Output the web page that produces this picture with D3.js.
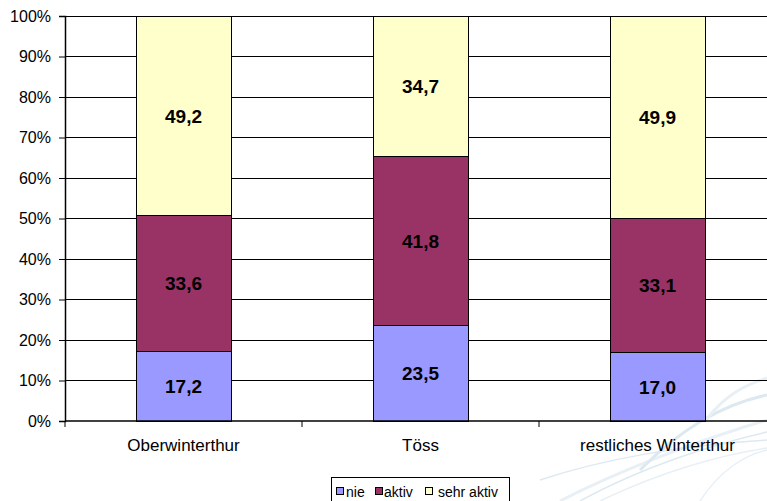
<!DOCTYPE html>
<html><head><meta charset="utf-8">
<script src="https://cdn.jsdelivr.net/npm/d3@7"></script>
<style>html,body{margin:0;padding:0;background:#fff;}svg{display:block;font-family:Arial,"Liberation Sans",sans-serif;}</style>
</head><body>
<svg id="c" width="767" height="501"></svg>
<script>
const categories = ["Oberwinterthur", "Töss", "restliches Winterthur"];
const seriesNames = ["nie", "aktiv", "sehr aktiv"];
const nie = [17.2, 23.5, 17.0];
const aktiv = [33.6, 41.8, 33.1];
const sehrAktiv = [49.2, 34.7, 49.9];
const yTicks = [0, 10, 20, 30, 40, 50, 60, 70, 80, 90, 100];
const colors = ["#9999FF", "#993366", "#FFFFCC"];

(function () {
const svg = d3.select("#c");
const pLeft = 65, pRight = 776, pTop = 16, pBottom = 421;

// decorative background swooshes
const deco = svg.append("g").attr("fill", "none");
const swooshes = [
  "M560,501 C620,470 700,440 767,420",
  "M580,501 C640,468 710,445 767,432",
  "M600,501 C660,472 720,455 767,448",
  "M640,470 C680,430 720,405 767,395",
  "M700,501 C720,470 745,455 767,450",
  "M540,480 C600,460 680,445 767,440",
  "M706,420 C725,395 745,385 767,378"
];
swooshes.forEach((d, i) => deco.append("path").attr("d", d)
  .attr("stroke", i % 2 ? "#dde9f1" : "#e8f0f6").attr("stroke-width", i % 3 === 0 ? 3 : 1.5));

const y = d3.scaleLinear().domain([0, 100]).range([pBottom, pTop]);

// gridlines
svg.append("g").selectAll("line").data(yTicks.filter(t => t > 0)).join("line")
  .attr("x1", pLeft).attr("x2", pRight).attr("y1", d => y(d)).attr("y2", d => y(d))
  .attr("stroke", "#000").attr("stroke-width", 1).attr("shape-rendering", "crispEdges");

const table = categories.map((c, i) => ({cat: c, nie: nie[i], aktiv: aktiv[i], sehr: sehrAktiv[i]}));
const stack = d3.stack().keys(["nie", "aktiv", "sehr"])(table);

const x = d3.scaleBand().domain(categories).range([pLeft, pRight]);
const bandStep = x.step();
const barW = 95;
const cx = c => x(c) + bandStep / 2;

stack.forEach((s, si) => {
  const g = svg.append("g");
  g.selectAll("rect").data(s).join("rect")
    .attr("x", d => cx(d.data.cat) - barW / 2)
    .attr("width", barW)
    .attr("y", d => y(d[1]))
    .attr("height", d => y(d[0]) - y(d[1]))
    .attr("fill", colors[si]).attr("stroke", "#000").attr("stroke-width", 1)
    .attr("shape-rendering", "crispEdges");
  g.selectAll("text").data(s).join("text")
    .attr("x", d => cx(d.data.cat))
    .attr("y", d => (y(d[0]) + y(d[1])) / 2 + 7)
    .attr("text-anchor", "middle").attr("font-weight", "bold").attr("font-size", 19)
    .attr("fill", "#000")
    .text(d => d3.format(".1f")(d[1] - d[0]).replace(".", ","));
});

// y axis
const yAxis = d3.axisLeft(y).tickValues(yTicks).tickSize(6).tickPadding(8).tickFormat(d => d + "%");
const ya = svg.append("g").attr("transform", `translate(${pLeft},0)`).call(yAxis);
ya.select(".domain").attr("stroke", "#000").attr("stroke-width", 1.5);
ya.selectAll(".tick line").attr("stroke", "#000");
ya.selectAll("text").attr("font-size", 16).attr("fill", "#000").attr("font-family", "Arial, 'Liberation Sans', sans-serif");

// x axis
svg.append("line").attr("x1", pLeft).attr("x2", pRight).attr("y1", pBottom).attr("y2", pBottom)
  .attr("stroke", "#000").attr("stroke-width", 1.5);
svg.append("g").selectAll("line").data(d3.range(4)).join("line")
  .attr("x1", i => pLeft + i * bandStep).attr("x2", i => pLeft + i * bandStep)
  .attr("y1", pBottom).attr("y2", pBottom + 6).attr("stroke", "#000");
svg.append("g").selectAll("text").data(categories).join("text")
  .attr("x", d => cx(d)).attr("y", 451)
  .attr("text-anchor", "middle").attr("font-size", 17).attr("fill", "#000").text(d => d);

// legend
const lg = svg.append("g").attr("transform", "translate(331.5,477.5)");
lg.append("rect").attr("x", 0).attr("y", 0).attr("width", 178).attr("height", 30)
  .attr("fill", "#fff").attr("stroke", "#000").attr("stroke-width", 1);
const swX = [5, 44, 94];
const txX = [14.5, 52.5, 106.5];
seriesNames.forEach((n, i) => {
  lg.append("rect").attr("x", swX[i]).attr("y", 10).attr("width", 7).attr("height", 7)
    .attr("fill", colors[i]).attr("stroke", "#000").attr("stroke-width", 1);
  lg.append("text").attr("x", txX[i]).attr("y", 19.5).attr("font-size", 14).attr("fill", "#000").text(n);
});
})();
</script>
</body></html>
